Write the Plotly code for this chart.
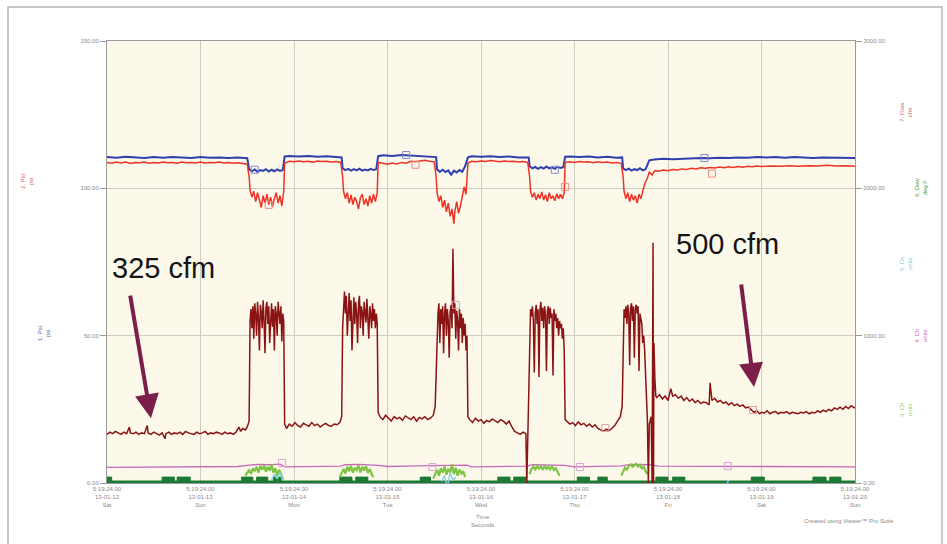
import plotly.graph_objects as go

# ---------------- data ----------------
day_labels = ["Sat", "Sun", "Mon", "Tue", "Wed", "Thu", "Fri", "Sat", "Sun"]
date_labels = ["13-01-12", "13-01-13", "13-01-14", "13-01-15", "13-01-16",
               "13-01-17", "13-01-18", "13-01-19", "13-01-20"]
time_label = "5:19:24.00"
tick_days = [0, 1, 2, 3, 4, 5, 6, 7, 8]

# 7. Flow (cfm, right axis)
flow_t = [0.00, 0.03, 0.06, 0.09, 0.12, 0.15, 0.18, 0.21, 0.24, 0.25, 0.28, 0.31, 0.34, 0.37, 0.40, 0.43, 0.44,
          0.47, 0.50, 0.53, 0.56, 0.59, 0.62, 0.63, 0.66, 0.69, 0.72, 0.75, 0.78, 0.81, 0.84, 0.87, 0.90, 0.93,
          0.96, 0.99, 1.02, 1.05, 1.08, 1.11, 1.14, 1.17, 1.20, 1.23, 1.26, 1.29, 1.32, 1.35, 1.38, 1.41, 1.43,
          1.45, 1.48, 1.50, 1.52,
          1.53, 1.54, 1.55, 1.56, 1.57, 1.58, 1.59, 1.60, 1.61, 1.62, 1.63, 1.64, 1.65, 1.66, 1.67, 1.68, 1.69,
          1.70, 1.71, 1.72, 1.73, 1.74, 1.75, 1.76, 1.77, 1.78, 1.79, 1.80, 1.81, 1.82, 1.83, 1.84, 1.85, 1.86,
          1.87, 1.88, 1.89, 1.90,
          1.92, 1.95, 1.98, 2.01, 2.04, 2.07, 2.10, 2.13, 2.16, 2.19, 2.22, 2.25, 2.28, 2.31, 2.34, 2.37, 2.40,
          2.43, 2.46, 2.49, 2.51,
          2.52, 2.53, 2.54, 2.55, 2.56, 2.57, 2.58, 2.59, 2.60, 2.61, 2.62, 2.63, 2.64, 2.65, 2.66, 2.67, 2.68,
          2.69, 2.70, 2.71, 2.72, 2.73, 2.74, 2.75, 2.76, 2.77, 2.78, 2.79, 2.80, 2.81, 2.82, 2.83, 2.84, 2.85,
          2.86, 2.87, 2.88, 2.89, 2.90,
          2.92, 2.95, 2.98, 3.01, 3.04, 3.07, 3.10, 3.13, 3.16, 3.19, 3.22, 3.25, 3.28, 3.31, 3.34, 3.37, 3.40,
          3.43, 3.46, 3.49, 3.51,
          3.53, 3.54, 3.55, 3.56, 3.57, 3.58, 3.59, 3.60, 3.61, 3.62, 3.63, 3.64, 3.65, 3.66, 3.67, 3.68, 3.69,
          3.70, 3.71, 3.72, 3.73, 3.74, 3.75, 3.76, 3.77, 3.78, 3.79, 3.80, 3.81, 3.82, 3.83, 3.84, 3.85, 3.86,
          3.88, 3.91, 3.94, 3.97, 4.00, 4.03, 4.06, 4.09, 4.12, 4.15, 4.18, 4.21, 4.24, 4.27, 4.30, 4.33, 4.36,
          4.39, 4.42, 4.45, 4.48, 4.49, 4.50, 4.51,
          4.52, 4.53, 4.54, 4.55, 4.56, 4.57, 4.58, 4.59, 4.60, 4.61, 4.62, 4.63, 4.64, 4.65, 4.66, 4.67, 4.68,
          4.69, 4.70, 4.71, 4.72, 4.73, 4.74, 4.75, 4.76, 4.77, 4.78, 4.79, 4.80, 4.81, 4.82, 4.83, 4.84, 4.85,
          4.86, 4.87, 4.88, 4.89, 4.90,
          4.92, 4.95, 4.98, 5.01, 5.04, 5.07, 5.10, 5.13, 5.16, 5.19, 5.22, 5.25, 5.28, 5.31, 5.34, 5.37, 5.40,
          5.43, 5.46, 5.49, 5.51,
          5.52, 5.53, 5.54, 5.55, 5.56, 5.57, 5.58, 5.59, 5.60, 5.61, 5.62, 5.63, 5.64, 5.65, 5.66, 5.67, 5.68,
          5.69, 5.70, 5.71, 5.72, 5.73, 5.74, 5.75, 5.76, 5.77, 5.78, 5.79, 5.80, 5.82, 5.83, 5.84, 5.845, 5.85,
          5.86, 5.87,
          5.88, 5.91, 5.94, 5.97, 6.00, 6.03, 6.05, 6.08, 6.11, 6.14, 6.17, 6.20, 6.23, 6.26, 6.29, 6.32, 6.35,
          6.38, 6.41, 6.44, 6.45, 6.47, 6.50, 6.53, 6.56, 6.59, 6.62, 6.65, 6.68, 6.71, 6.74, 6.77, 6.80, 6.83,
          6.86, 6.89, 6.92, 6.95, 6.98, 7.00, 7.03, 7.06, 7.09, 7.12, 7.15, 7.18, 7.21, 7.24, 7.27, 7.30, 7.33,
          7.36, 7.39, 7.42, 7.45, 7.48, 7.51, 7.54, 7.57, 7.60, 7.63, 7.66, 7.69, 7.72, 7.75, 7.78, 7.81, 7.84,
          7.87, 7.90, 7.93, 7.96, 7.99, 8.00]
flow_v = [330, 345, 335, 350, 340, 330, 345, 335, 380, 340, 335, 345, 330, 340, 335, 390, 340,
          330, 345, 335, 325, 340, 300, 335, 345, 330, 340, 335, 345, 330, 350, 340, 335, 330,
          345, 335, 340, 350, 330, 340, 335, 345, 340, 330, 345, 335, 340, 330, 345, 380, 350,
          370, 360, 380, 420,
          1100, 1180, 1050, 1200, 980, 1220, 1150, 1000, 1230, 1120, 900, 1210, 1160, 1050, 1240, 1100, 880,
          1190, 1230, 1080, 1200, 950, 1170, 1220, 1060, 1180, 900, 1200, 1150, 1000, 1230, 1170, 1080, 1200,
          960, 1150, 1100, 400,
          370, 400, 385, 410, 390, 380, 405, 395, 385, 410, 390, 400, 380, 395, 405, 390, 385,
          400, 395, 410, 450,
          1050, 1250, 1300, 1150, 1270, 1000, 1220, 1290, 1100, 1240, 900, 1200, 1260, 1080, 1230, 1150, 950,
          1220, 1270, 1050, 1200, 1160, 1000, 1230, 1180, 1090, 1250, 1120, 980, 1200, 1150, 1050, 1220, 1100,
          1180, 1050, 1150, 1080, 480,
          450, 430, 460, 440, 420, 450, 435, 445, 425, 455, 440, 430, 450, 420, 445, 435, 450,
          430, 440, 460, 520,
          1000, 1150, 1220, 950, 1180, 1080, 1200, 880, 1150, 1220, 1000, 1180, 1100, 850, 1160, 1210, 1050,
          1590, 1150, 1220, 980, 1170, 1100, 900, 1180, 1050, 1150, 950, 1120, 1000, 1080, 900, 1000, 450,
          430, 410, 440, 420, 430, 405, 425, 415, 435, 420, 410, 430, 420, 400, 420, 380, 350,
          340, 330, 345, 335, 0, 340, 420,
          1000, 1180, 1130, 1200, 1100, 750, 1150, 1210, 1080, 1180, 720, 1170, 1230, 1100, 1190, 1050, 1200,
          1140, 760, 1170, 1200, 1080, 1190, 1120, 1150, 730, 1180, 1100, 1150, 1050, 1120, 1000, 1100, 1050,
          1080, 980, 1050, 900, 430,
          420, 400, 410, 390, 415, 395, 405, 385, 400, 380, 395, 370, 360, 350, 365, 355, 370,
          390, 420, 450, 520,
          1050, 1180, 1120, 1200, 1080, 1210, 1150, 800, 1190, 1220, 1100, 1200, 850, 1180, 1210, 1150, 1200,
          760, 1150, 1100, 1080, 950, 1000, 900, 700, 500, 420, 0, 400, 450, 0, 1630, 0, 950,
          700, 590,
          580, 600, 570, 590, 560, 640, 590, 600, 575, 590, 560, 580, 555, 570, 545, 560, 540,
          550, 545, 530, 680, 560, 575, 550, 560, 540, 550, 530, 545, 525, 535, 520, 530, 510,
          515, 495, 480, 490, 470, 480, 475, 490, 470, 480, 485, 470, 480, 475, 485, 470, 480,
          475, 470, 480, 475, 485, 470, 480, 475, 490, 480, 495, 485, 500, 490, 510, 500, 515,
          500, 520, 505, 525, 510, 515]

# 1. pressure (psi, left axis) - blue
p1_t = [0.00, 0.10, 0.20, 0.30, 0.40, 0.50, 0.60, 0.70, 0.80, 0.90, 1.00, 1.10, 1.20, 1.30, 1.40, 1.50,
        1.52, 1.55, 1.58, 1.61, 1.64, 1.67, 1.70, 1.73, 1.76, 1.79, 1.82, 1.85, 1.88, 1.90,
        1.95, 2.05, 2.15, 2.25, 2.35, 2.45, 2.51,
        2.52, 2.55, 2.58, 2.61, 2.64, 2.67, 2.70, 2.73, 2.76, 2.79, 2.82, 2.85, 2.88, 2.90,
        2.95, 3.05, 3.15, 3.25, 3.35, 3.45, 3.52,
        3.53, 3.56, 3.59, 3.62, 3.65, 3.68, 3.71, 3.74, 3.77, 3.80, 3.83, 3.86,
        3.90, 4.00, 4.10, 4.20, 4.30, 4.40, 4.51,
        4.52, 4.55, 4.58, 4.61, 4.64, 4.67, 4.70, 4.73, 4.76, 4.79, 4.82, 4.85, 4.88, 4.90,
        4.95, 5.05, 5.15, 5.25, 5.35, 5.45, 5.51,
        5.52, 5.55, 5.58, 5.61, 5.64, 5.67, 5.70, 5.73, 5.76, 5.80,
        5.85, 5.95, 6.05, 6.15, 6.25, 6.35, 6.45, 6.55, 6.65, 6.75, 6.85, 6.95, 7.05, 7.15, 7.25, 7.35,
        7.45, 7.55, 7.65, 7.75, 7.85, 7.95, 8.00]
p1_v = [110.6, 110.4, 110.7, 110.5, 110.3, 110.6, 110.4, 110.6, 110.5, 110.3, 110.6, 110.4, 110.5, 110.3, 110.5, 110.2,
        106.5, 105.8, 106.4, 105.6, 106.2, 105.9, 106.5, 105.7, 106.3, 105.8, 106.4, 105.9, 106.2, 110.8,
        111.0, 110.8, 111.0, 110.7, 110.9, 110.6, 110.5,
        106.8, 106.2, 106.6, 106.0, 106.5, 106.1, 106.7, 106.0, 106.4, 106.1, 106.6, 106.2, 106.5, 110.9,
        111.2, 111.0, 111.3, 111.1, 111.0, 110.8, 110.6,
        106.5, 105.6, 106.3, 105.5, 106.1, 104.6, 106.0, 105.4, 106.2, 105.6, 107.5, 110.5,
        110.9, 110.7, 110.9, 110.6, 110.8, 110.5, 110.5,
        107.5, 106.8, 107.3, 106.6, 107.2, 106.7, 107.4, 106.8, 107.1, 106.6, 107.3, 106.9, 107.2, 110.7,
        110.8, 110.6, 110.8, 110.5, 110.7, 110.4, 110.5,
        106.8, 106.2, 106.7, 106.0, 106.5, 106.2, 106.8, 106.1, 106.5, 109.5,
        109.8, 110.0, 109.9, 110.1, 110.2, 110.3, 110.2, 110.4, 110.3, 110.5, 110.4, 110.6, 110.5, 110.6, 110.4, 110.6,
        110.5, 110.3, 110.5, 110.4, 110.3, 110.2, 110.3]

# 2. pressure (psi, left axis) - red
p2_t = [0.00, 0.05, 0.10, 0.15, 0.20, 0.25, 0.30, 0.35, 0.40, 0.45, 0.50, 0.55, 0.60, 0.65, 0.70, 0.75, 0.80,
        0.85, 0.90, 0.95, 1.00, 1.05, 1.10, 1.15, 1.20, 1.25, 1.30, 1.35, 1.40, 1.45, 1.50, 1.52,
        1.53, 1.55, 1.57, 1.59, 1.61, 1.63, 1.65, 1.67, 1.69, 1.71, 1.73, 1.75, 1.77, 1.79, 1.81, 1.83, 1.85,
        1.87, 1.89, 1.90,
        1.95, 2.00, 2.05, 2.10, 2.15, 2.20, 2.25, 2.30, 2.35, 2.40, 2.45, 2.50, 2.52,
        2.53, 2.55, 2.57, 2.59, 2.61, 2.63, 2.65, 2.67, 2.69, 2.71, 2.73, 2.75, 2.77, 2.79, 2.81, 2.83, 2.85,
        2.87, 2.89, 2.90,
        2.95, 3.00, 3.05, 3.10, 3.15, 3.20, 3.25, 3.30, 3.35, 3.40, 3.45, 3.50, 3.52,
        3.53, 3.55, 3.57, 3.59, 3.61, 3.63, 3.65, 3.67, 3.69, 3.71, 3.72, 3.74, 3.76, 3.78, 3.80, 3.82, 3.84,
        3.86,
        3.90, 3.95, 4.00, 4.05, 4.10, 4.15, 4.20, 4.25, 4.30, 4.35, 4.40, 4.45, 4.50, 4.52,
        4.53, 4.55, 4.57, 4.59, 4.61, 4.63, 4.65, 4.67, 4.69, 4.71, 4.73, 4.75, 4.77, 4.79, 4.81, 4.83, 4.85,
        4.87, 4.89, 4.90,
        4.95, 5.00, 5.05, 5.10, 5.15, 5.20, 5.25, 5.30, 5.35, 5.40, 5.45, 5.50, 5.52,
        5.53, 5.55, 5.57, 5.59, 5.61, 5.63, 5.65, 5.67, 5.69, 5.71, 5.73, 5.75, 5.78, 5.80, 5.83, 5.86,
        5.90, 5.95, 6.00, 6.05, 6.10, 6.15, 6.20, 6.25, 6.30, 6.35, 6.40, 6.45, 6.50, 6.55, 6.60, 6.65, 6.70,
        6.75, 6.80, 6.85, 6.90, 6.95, 7.00, 7.10, 7.20, 7.30, 7.40, 7.50, 7.60, 7.70, 7.80, 7.90, 8.00]
p2_v = [108.8, 108.5, 108.9, 108.6, 108.9, 108.4, 108.8, 108.7, 108.9, 108.5, 108.8, 108.6, 108.9, 108.7, 108.8, 108.5, 108.9,
        108.7, 108.8, 108.6, 108.9, 108.6, 108.8, 108.7, 108.9, 108.6, 108.8, 108.5, 108.7, 108.4, 108.2, 104.0,
        99.5, 97.0, 99.0, 95.5, 98.5, 96.0, 93.5, 97.5, 95.0, 98.0, 94.5, 97.0, 93.8, 96.5, 98.5, 95.0, 97.5,
        94.0, 99.0, 108.5,
        109.2, 109.0, 109.3, 109.0, 109.2, 108.9, 109.3, 109.1, 109.2, 108.9, 109.1, 108.8, 104.0,
        99.0, 96.5, 98.5, 95.0, 97.8, 94.5, 97.0, 95.5, 93.0, 96.8, 98.0, 94.5, 96.5, 94.0, 97.5, 95.0, 98.0,
        95.5, 98.5, 108.8,
        108.5, 108.2, 108.6, 108.3, 108.8, 108.5, 109.2, 109.0, 109.3, 109.5, 109.2, 109.0, 104.0,
        98.5, 95.5, 97.5, 93.5, 96.0, 92.0, 95.0, 90.5, 93.0, 88.0, 92.0, 95.5, 91.5, 94.0, 97.5, 100.5, 98.0,
        108.5,
        109.2, 109.0, 109.3, 109.1, 109.4, 109.2, 109.0, 109.3, 109.1, 109.2, 108.9, 109.1, 108.8, 104.0,
        99.0, 97.0, 98.5, 96.0, 98.0, 96.5, 98.8, 96.0, 97.8, 95.5, 98.5, 96.5, 97.5, 95.8, 98.2, 96.5, 98.0,
        96.5, 98.5, 108.8,
        109.0, 108.8, 109.1, 108.9, 109.0, 108.7, 109.0, 108.8, 108.9, 108.6, 108.8, 108.5, 104.0,
        99.0, 96.5, 98.5, 95.5, 98.0, 96.0, 97.5, 95.0, 98.0, 96.5, 99.0, 101.5, 103.5, 105.5, 104.5, 106.0,
        105.8, 106.2, 106.0, 106.4, 106.2, 106.6, 106.4, 106.8, 106.6, 107.0, 106.8, 107.1, 106.9, 107.2, 107.0, 107.3, 107.1,
        107.4, 107.2, 107.5, 107.3, 107.6, 107.4, 107.6, 107.5, 107.7, 107.5, 107.7, 107.6, 107.8, 107.6, 107.7, 107.5]

# 4. channel (magenta, left axis)
ch4_t = [0.00, 0.50, 1.00, 1.40, 1.50, 1.60, 1.75, 1.85, 1.90, 2.20, 2.50, 2.55, 2.70, 2.90, 3.00, 3.30,
         3.50, 3.60, 3.85, 3.90, 4.20, 4.50, 4.55, 4.90, 5.00, 5.50, 5.60, 5.80, 5.90, 6.20, 6.50, 7.00,
         7.50, 8.00]
ch4_v = [5.3, 5.4, 5.5, 5.6, 6.0, 6.3, 6.2, 6.4, 5.5, 5.6, 5.7, 6.2, 6.3, 6.0, 5.6, 5.8,
         5.9, 6.2, 6.1, 5.5, 5.6, 5.7, 6.2, 6.0, 5.5, 5.8, 6.3, 6.2, 5.7, 5.7, 5.6, 5.6,
         5.5, 5.5]

# 3. channel (light green, left axis) - bursts during the loaded periods
ch3_t = [1.48, 1.50, 1.52, 1.54, 1.56, 1.58, 1.60, 1.62, 1.64, 1.66, 1.68, 1.70, 1.72, 1.74, 1.76, 1.78,
         1.80, 1.82, 1.84, 1.86, 1.88, None,
         2.49, 2.51, 2.53, 2.55, 2.57, 2.59, 2.61, 2.63, 2.65, 2.67, 2.69, 2.71, 2.73, 2.75, 2.77, 2.79,
         2.81, 2.83, 2.85, None,
         3.49, 3.51, 3.53, 3.55, 3.57, 3.59, 3.61, 3.63, 3.65, 3.67, 3.69, 3.71, 3.73, 3.75, 3.77, 3.79,
         3.81, 3.83, None,
         4.52, 4.54, 4.56, 4.58, 4.60, 4.62, 4.64, 4.66, 4.68, 4.70, 4.72, 4.74, 4.76, 4.78, 4.80, 4.82,
         4.84, None,
         5.50, 5.52, 5.54, 5.56, 5.58, 5.60, 5.62, 5.64, 5.66, 5.68, 5.70, 5.72, 5.74, 5.76, 5.78]
ch3_v = [2.5, 3.5, 4.5, 3.0, 5.0, 4.0, 5.5, 3.5, 5.8, 4.5, 6.0, 3.8, 5.5, 4.2, 6.2, 3.5,
         5.0, 2.5, 4.5, 3.0, 1.5, None,
         2.0, 3.5, 4.8, 3.2, 5.5, 4.0, 5.8, 3.5, 5.2, 4.4, 6.0, 3.6, 5.5, 4.2, 5.8, 3.4,
         4.8, 3.0, 2.0, None,
         1.5, 3.0, 4.5, 2.5, 5.0, 3.5, 5.6, 2.8, 4.8, 3.6, 6.3, 3.0, 5.2, 2.5, 4.6, 3.2,
         4.0, 2.0, None,
         3.0, 4.8, 5.5, 4.6, 5.8, 4.9, 5.6, 4.5, 5.9, 4.8, 5.5, 4.6, 5.7, 4.4, 5.0, 3.8,
         2.5, None,
         2.5, 4.0, 5.2, 4.6, 5.8, 6.3, 5.5, 6.0, 6.5, 5.6, 6.2, 5.0, 5.5, 4.0, 3.0]

# 5. channel (cyan, left axis) - short traces near the bottom
ch5_t = [1.76, 1.79, 1.82, 1.85, 1.88, None, 3.58, 3.61, 3.64, 3.67, 3.70, 3.73, None, 6.62, 6.65]
ch5_v = [1.0, 3.0, 1.5, 3.5, 0.8, None, 0.5, 2.5, -1.5, 3.5, 1.0, 2.0, None, -1.0, 1.0]

# 6. dew point (dark green, left axis) - on/off blocks
dew_start = [0.00, 0.59, 0.75, 1.44, 1.60, 1.78, 2.49, 2.66, 3.35, 4.18, 4.35, 5.03, 5.25, 5.87, 6.05,
             6.89, 7.55, 7.73]
dew_end = [0.05, 0.72, 0.89, 1.56, 1.72, 1.88, 2.62, 2.79, 3.46, 4.31, 4.48, 5.16, 5.35, 6.00, 6.18,
           7.03, 7.69, 7.85]
dew_level = 2.0
dew_base = 0.4

# open square markers placed on the traces
mk_blue_t, mk_blue_v = [1.58, 3.20, 4.79, 6.39], [106.3, 111.3, 106.3, 110.3]
mk_red_t, mk_red_v = [1.73, 3.30, 4.90, 6.47], [94.4, 108.0, 100.5, 105.0]
mk_flow_t, mk_flow_v = [3.73, 5.33, 6.91], [1209, 373, 495]
mk_mag_t, mk_mag_v = [1.87, 3.48, 5.06, 6.64], [6.8, 5.4, 5.4, 5.8]

# ---------------- colours ----------------
C_BLUE = "#2f3fae"
C_RED = "#ec3326"
C_FLOW = "#8a1414"
C_MAG = "#c66ab8"
C_DEW = "#1d7a34"
C_LG = "#7dc443"
C_CYAN = "#86d3e6"
C_ARROW = "#7b1f4a"
GRID = "#cdccc2"
TXT = "#8a8a8a"

W, H = 947, 544
ML, MR, MT, MB = 107, 92, 41, 61
PW, PH = W - ML - MR, H - MT - MB


def px_x(x):
    return (x - ML) / PW


def px_y(y):
    return (H - MB - y) / PH


fig = go.Figure()

# dark green baseline and blocks
dew_x, dew_y = [], []
for s, e in zip(dew_start, dew_end):
    dew_x += [s, s, e, e, None]
    dew_y += [0, dew_level, dew_level, 0, None]
fig.add_trace(go.Scatter(x=[0, 8], y=[dew_base, dew_base], mode="lines",
                         line=dict(color=C_DEW, width=2.5), showlegend=False))
fig.add_trace(go.Scatter(x=dew_x, y=dew_y, mode="lines", fill="toself", fillcolor=C_DEW,
                         line=dict(color=C_DEW, width=1), showlegend=False))

fig.add_trace(go.Scatter(x=ch4_t, y=ch4_v, mode="lines", line=dict(color=C_MAG, width=1.3),
                         showlegend=False))
fig.add_trace(go.Scatter(x=ch3_t, y=ch3_v, mode="lines", line=dict(color=C_LG, width=2.2),
                         showlegend=False))
fig.add_trace(go.Scatter(x=ch5_t, y=ch5_v, mode="lines", line=dict(color=C_CYAN, width=1.5),
                         showlegend=False))

fig.add_trace(go.Scatter(x=p1_t, y=p1_v, mode="lines", line=dict(color=C_BLUE, width=2),
                         showlegend=False))
fig.add_trace(go.Scatter(x=p2_t, y=p2_v, mode="lines", line=dict(color=C_RED, width=1.5),
                         showlegend=False))
fig.add_trace(go.Scatter(x=flow_t, y=flow_v, mode="lines", line=dict(color=C_FLOW, width=1.5),
                         yaxis="y2", showlegend=False))

sq = dict(symbol="square-open", size=7)
fig.add_trace(go.Scatter(x=mk_blue_t, y=mk_blue_v, mode="markers",
                         marker=dict(color="#7f8ad0", **sq), showlegend=False))
fig.add_trace(go.Scatter(x=mk_red_t, y=mk_red_v, mode="markers",
                         marker=dict(color="#f08c80", **sq), showlegend=False))
fig.add_trace(go.Scatter(x=mk_flow_t, y=mk_flow_v, mode="markers", yaxis="y2",
                         marker=dict(color="#d8a0a0", **sq), showlegend=False))
fig.add_trace(go.Scatter(x=mk_mag_t, y=mk_mag_v, mode="markers",
                         marker=dict(color="#e0a0d8", **sq), showlegend=False))

tick_text = [f"{time_label}<br>{d}<br>{w}" for d, w in zip(date_labels, day_labels)]

fig.update_layout(
    width=W, height=H,
    margin=dict(l=ML, r=MR, t=MT, b=MB),
    paper_bgcolor="white",
    plot_bgcolor="#fdf9ea",
    font=dict(family="Liberation Sans, Arial, sans-serif", color=TXT, size=6),
    xaxis=dict(range=[0, 8], tickvals=tick_days, ticktext=tick_text,
               showgrid=True, gridcolor=GRID, gridwidth=1,
               showline=True, linecolor="#9a9a9a", linewidth=1, mirror=True,
               ticks="", tickfont=dict(size=6, color=TXT), zeroline=False),
    yaxis=dict(range=[0, 150], tickvals=[0, 50, 100, 150],
               ticktext=["0.00", "50.00", "100.00", "150.00"],
               showgrid=True, gridcolor=GRID, gridwidth=1,
               showline=True, linecolor="#9a9a9a", linewidth=1, mirror=True,
               ticks="outside", ticklen=6, tickcolor="#9a9a9a",
               tickfont=dict(size=6, color=TXT), zeroline=False),
    yaxis2=dict(range=[0, 3000], overlaying="y", side="right",
                tickvals=[0, 1000, 2000, 3000],
                ticktext=["0.00", "1000.00", "2000.00", "3000.00"],
                showgrid=False, showline=False, zeroline=False,
                ticks="outside", ticklen=6, tickcolor="#9a9a9a",
                tickfont=dict(size=6, color=TXT)),
)

ann = []
# big callouts with arrows
ann.append(dict(x=0.47, y=22.0, xref="x", yref="y", ax=-21, ay=-124, text="",
                showarrow=True, arrowhead=2, arrowsize=1.2, arrowwidth=4, arrowcolor=C_ARROW))
ann.append(dict(x=6.92, y=32.6, xref="x", yref="y", ax=-13, ay=-104, text="",
                showarrow=True, arrowhead=2, arrowsize=1.2, arrowwidth=4, arrowcolor=C_ARROW))
big = dict(size=29, color="#151515", family="Liberation Sans, Arial")
ctr = dict(xanchor="center", yanchor="middle", showarrow=False, xref="paper", yref="paper")
ann.append(dict(x=px_x(163), y=px_y(268), text="325 cfm", font=big, **ctr))
ann.append(dict(x=px_x(727), y=px_y(244), text="500 cfm", font=big, **ctr))

ann.append(dict(x=px_x(482), y=px_y(521), text="Time<br>Seconds",
                font=dict(size=6, color=TXT), **ctr))
ann.append(dict(x=px_x(849), y=px_y(521), text="Created using Viewer™ Pro Suite",
                font=dict(size=6, color=TXT), **ctr))

# side channel titles (rotated)
side_titles = [
    (27, 182, "2. Psi<br>psi", "#e45a55"),
    (44, 334, "1. Psi<br>psi", "#5a64b8"),
    (906, 112, "7. Flow<br>cfm", "#c46a6a"),
    (921, 187, "6. Dew<br>deg F", "#4aa04a"),
    (906, 264, "5. Ch<br>units", "#7cc9d8"),
    (921, 336, "4. Ch<br>units", "#c86ab8"),
    (906, 410, "3. Ch<br>units", "#8fcf62"),
]
for x, y, t, c in side_titles:
    ann.append(dict(x=px_x(x), y=px_y(y), text=t, textangle=-90,
                    font=dict(size=6, color=c), **ctr))

fig.update_layout(annotations=ann)

# outer frame of the figure
fig.add_shape(type="rect", xref="paper", yref="paper",
              x0=px_x(8), x1=px_x(942), y0=px_y(570), y1=px_y(7),
              line=dict(color="#b5b5b5", width=1.5), layer="below")

fig.write_html("out.html")
